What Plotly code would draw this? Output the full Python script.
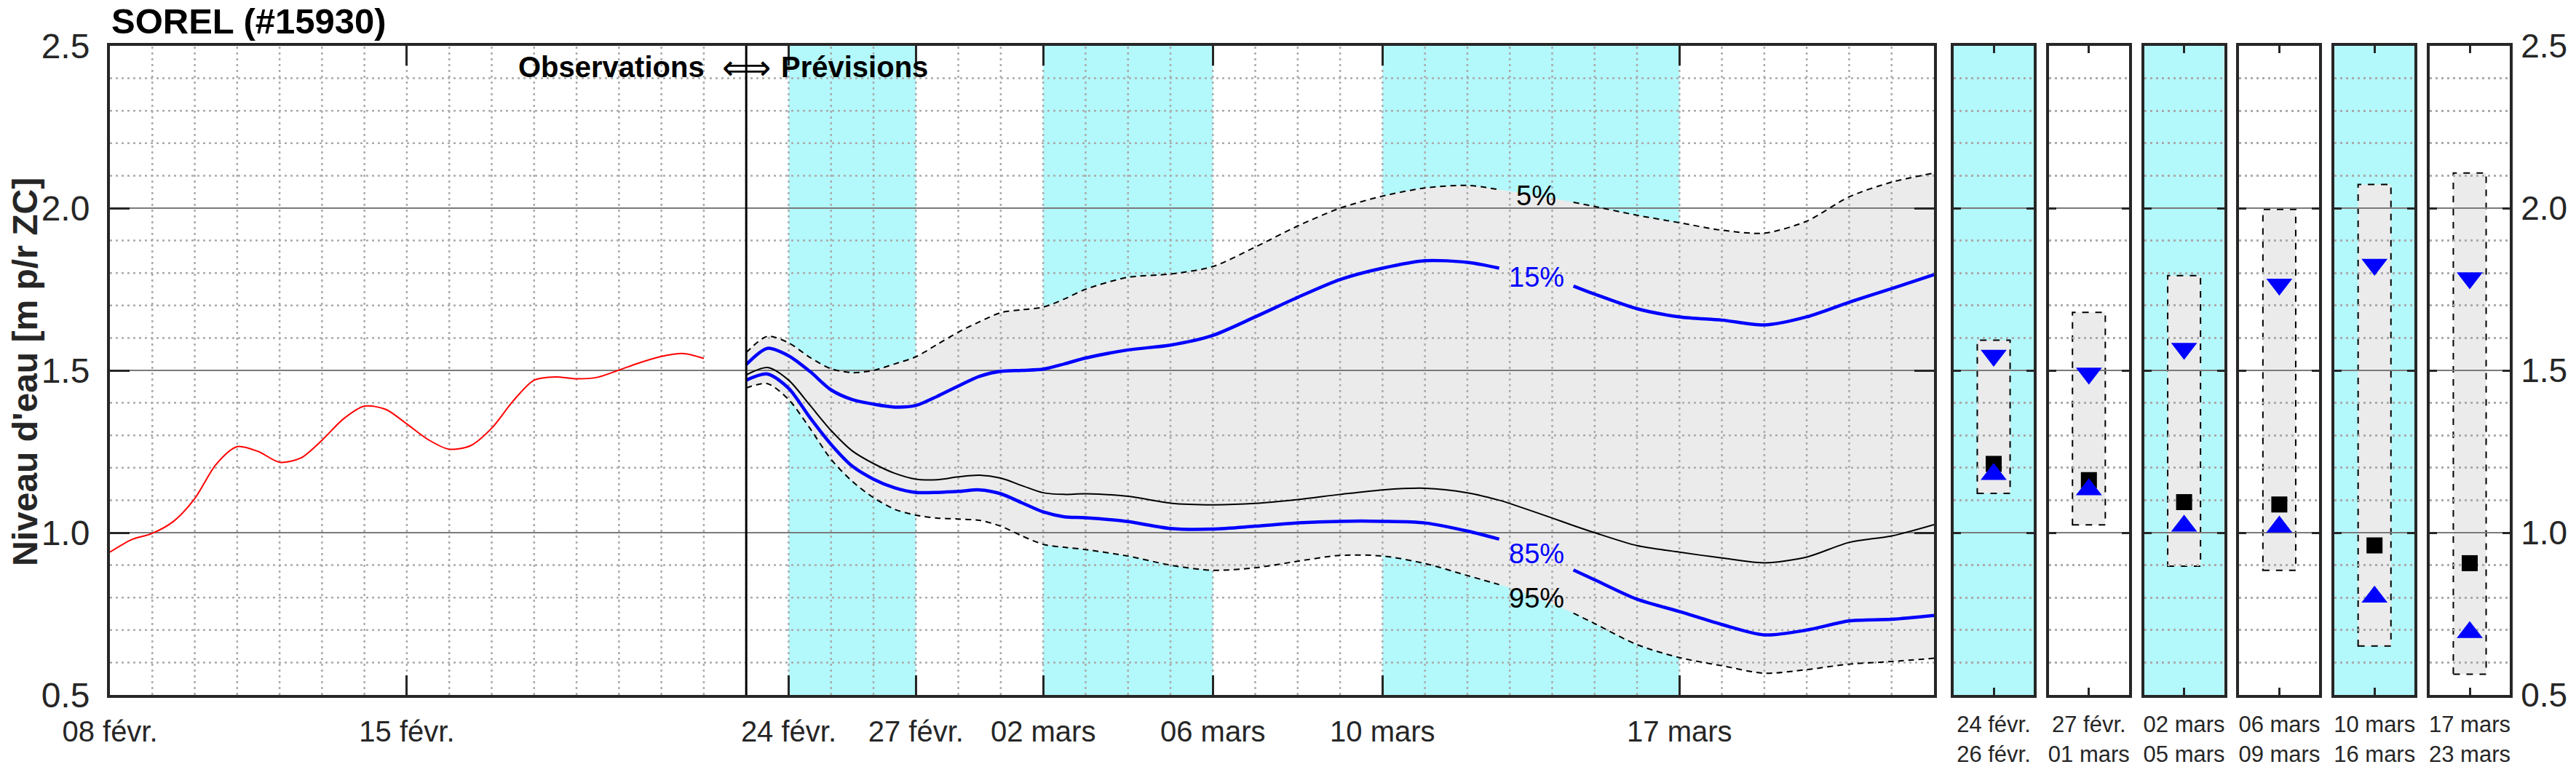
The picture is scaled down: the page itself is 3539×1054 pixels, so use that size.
import numpy as np
import pandas as pd
import plotly.graph_objects as go

# ---------------- data ----------------
OBS_DATES = ["2025-02-08 00:00", "2025-02-08 12:00", "2025-02-09 00:00", "2025-02-09 12:00",
             "2025-02-10 00:00", "2025-02-10 12:00", "2025-02-11 00:00", "2025-02-11 12:00",
             "2025-02-12 00:00", "2025-02-12 12:00", "2025-02-13 00:00", "2025-02-13 12:00",
             "2025-02-14 00:00", "2025-02-14 12:00", "2025-02-15 00:00", "2025-02-15 12:00",
             "2025-02-16 00:00", "2025-02-16 12:00", "2025-02-17 00:00", "2025-02-17 12:00",
             "2025-02-18 00:00", "2025-02-18 12:00", "2025-02-19 00:00", "2025-02-19 12:00",
             "2025-02-20 00:00", "2025-02-20 12:00", "2025-02-21 00:00", "2025-02-21 12:00",
             "2025-02-22 00:00"]
OBS_LEVEL = [0.940, 0.978, 0.998, 1.035, 1.105, 1.210, 1.265, 1.250, 1.217, 1.230,
             1.285, 1.350, 1.390, 1.380, 1.335, 1.287, 1.257, 1.268, 1.322, 1.405,
             1.470, 1.480, 1.474, 1.479, 1.501, 1.524, 1.543, 1.552, 1.537]

FC_DATES = ["2025-02-23 00:00", "2025-02-23 12:00", "2025-02-24 00:00", "2025-02-24 12:00",
            "2025-02-25 00:00", "2025-02-25 12:00", "2025-02-26 00:00", "2025-02-26 12:00",
            "2025-02-27 00:00", "2025-02-27 12:00", "2025-02-28 00:00", "2025-02-28 12:00",
            "2025-03-01 00:00", "2025-03-01 12:00", "2025-03-02 00:00", "2025-03-02 12:00",
            "2025-03-03 00:00", "2025-03-04 00:00", "2025-03-05 00:00", "2025-03-06 00:00",
            "2025-03-07 00:00", "2025-03-08 00:00", "2025-03-09 00:00", "2025-03-10 00:00",
            "2025-03-11 00:00", "2025-03-12 00:00", "2025-03-12 18:00", "2025-03-13 00:00",
            "2025-03-14 00:00", "2025-03-14 12:00", "2025-03-15 00:00", "2025-03-16 00:00",
            "2025-03-17 00:00", "2025-03-18 00:00", "2025-03-19 00:00", "2025-03-20 00:00",
            "2025-03-21 00:00", "2025-03-22 00:00", "2025-03-23 00:00"]
P5 = [1.555, 1.605, 1.585, 1.540, 1.505, 1.493, 1.500, 1.520, 1.542, 1.580, 1.618, 1.650,
      1.678, 1.687, 1.695, 1.720, 1.750, 1.787, 1.797, 1.820, 1.880, 1.945, 2.000, 2.037,
      2.062, 2.070, 2.057, 2.052, 2.030, 2.018, 2.005, 1.978, 1.955, 1.932, 1.923, 1.960,
      2.035, 2.080, 2.108]
P15 = [1.518, 1.568, 1.545, 1.497, 1.440, 1.410, 1.396, 1.387, 1.392, 1.420, 1.452, 1.482,
       1.497, 1.500, 1.504, 1.520, 1.538, 1.563, 1.578, 1.608, 1.665, 1.725, 1.780, 1.815,
       1.838, 1.833, 1.815, 1.810, 1.775, 1.760, 1.735, 1.690, 1.665, 1.655, 1.640, 1.665,
       1.710, 1.752, 1.795]
P50 = [1.486, 1.509, 1.470, 1.393, 1.315, 1.252, 1.213, 1.183, 1.165, 1.163, 1.172, 1.177,
       1.168, 1.145, 1.123, 1.118, 1.120, 1.112, 1.091, 1.086, 1.090, 1.102, 1.118, 1.132,
       1.137, 1.123, 1.100, 1.090, 1.045, 1.022, 1.000, 0.960, 0.940, 0.922, 0.907, 0.925,
       0.970, 0.990, 1.025]
P85 = [1.470, 1.489, 1.445, 1.355, 1.272, 1.205, 1.165, 1.138, 1.124, 1.124, 1.127, 1.132,
       1.120, 1.092, 1.064, 1.049, 1.046, 1.034, 1.013, 1.011, 1.020, 1.030, 1.035, 1.035,
       1.030, 1.005, 0.980, 0.970, 0.915, 0.885, 0.855, 0.795, 0.757, 0.717, 0.685, 0.700,
       0.728, 0.733, 0.745]
P95 = [1.446, 1.459, 1.410, 1.322, 1.226, 1.158, 1.108, 1.072, 1.054, 1.045, 1.042, 1.038,
       1.020, 0.990, 0.964, 0.955, 0.948, 0.928, 0.900, 0.884, 0.892, 0.912, 0.930, 0.928,
       0.905, 0.868, 0.840, 0.830, 0.780, 0.752, 0.720, 0.655, 0.615, 0.590, 0.567, 0.578,
       0.595, 0.603, 0.613]

X_RANGE = ["2025-02-08", "2025-03-23"]
OBS_END = "2025-02-23"
MAIN_TICK_DATES = ["2025-02-08", "2025-02-15", "2025-02-24", "2025-02-27",
                   "2025-03-02", "2025-03-06", "2025-03-10", "2025-03-17"]
MAIN_TICK_LABELS = ["08 févr.", "15 févr.", "24 févr.", "27 févr.",
                    "02 mars", "06 mars", "10 mars", "17 mars"]
CYAN_START = ["2025-02-24", "2025-03-02", "2025-03-10"]
CYAN_END = ["2025-02-27", "2025-03-06", "2025-03-17"]
Y_TICKS = [0.5, 1.0, 1.5, 2.0, 2.5]

LABEL_GAP = ["2025-03-12 18:00", "2025-03-14 12:00"]
CURVE_LABELS = ["5%", "15%", "85%", "95%"]

PERIOD_FROM = ["24 févr.", "27 févr.", "02 mars", "06 mars", "10 mars", "17 mars"]
PERIOD_TO = ["26 févr.", "01 mars", "05 mars", "09 mars", "16 mars", "23 mars"]
PERIOD_SHADED = [True, False, True, False, True, False]
BOX_TOP = [1.593, 1.679, 1.792, 1.996, 2.073, 2.108]
BOX_BOTTOM = [1.121, 1.024, 0.897, 0.884, 0.651, 0.564]
MED_MARK = [1.212, 1.162, 1.094, 1.087, 0.961, 0.906]
P15_MARK = [1.546, 1.491, 1.567, 1.765, 1.826, 1.785]
P85_MARK = [1.180, 1.133, 1.021, 1.018, 0.802, 0.693]

# ---------------- style ----------------
FONT = "Liberation Sans, Arial, Helvetica, sans-serif"
AX = "#262626"
CYAN = "#b3f8fb"
FILL = "#ebebeb"
GRID = "#ababab"
MAJ = "#7a7a7a"
BLUE = "#0000ff"
W, H = 3539, 1054
ML, MR, MT, MB = 151, 89, 63, 99
PW, PH = W - ML - MR, H - MT - MB


def fx(px):
    return (px - ML) / PW


def fy(py):
    return (H - MB - py) / PH


fig = go.Figure()

# cyan forecast-period bands (below grid)
for s, e in zip(CYAN_START, CYAN_END):
    fig.add_shape(type="rect", xref="x", yref="y domain", x0=s, x1=e, y0=0, y1=1,
                  fillcolor=CYAN, line_width=0, layer="below")

# envelope fill 5%-95%
fig.add_trace(go.Scatter(x=FC_DATES, y=P95, mode="lines",
                         line=dict(width=0, shape="spline", smoothing=0.8),
                         hoverinfo="skip", showlegend=False))
fig.add_trace(go.Scatter(x=FC_DATES, y=P5, mode="lines",
                         line=dict(width=0, shape="spline", smoothing=0.8),
                         fill="tonexty", fillcolor=FILL, hoverinfo="skip", showlegend=False))

# grid drawn on top of the fills
minor_y = [round(v, 1) for v in np.arange(0.6, 2.45, 0.1) if round(v, 1) not in Y_TICKS]
hx, hy = [], []
for v in minor_y:
    hx += [X_RANGE[0], X_RANGE[1], None]
    hy += [v, v, None]
vx, vy = [], []
for d in pd.date_range("2025-02-09", "2025-03-22", freq="D"):
    vx += [d, d, None]
    vy += [Y_TICKS[0], Y_TICKS[-1], None]
fig.add_trace(go.Scatter(x=vx, y=vy, mode="lines", line=dict(color=GRID, width=2.5, dash="3px,5px"),
                         hoverinfo="skip", showlegend=False))
fig.add_trace(go.Scatter(x=hx, y=hy, mode="lines", line=dict(color=GRID, width=2.5, dash="3px,5px"),
                         hoverinfo="skip", showlegend=False))
mx, my = [], []
for v in Y_TICKS[1:-1]:
    mx += [X_RANGE[0], X_RANGE[1], None]
    my += [v, v, None]
fig.add_trace(go.Scatter(x=mx, y=my, mode="lines", line=dict(color=MAJ, width=2),
                         hoverinfo="skip", showlegend=False))

# curves
fc_index = pd.to_datetime(FC_DATES)
g0, g1 = pd.to_datetime(LABEL_GAP[0]), pd.to_datetime(LABEL_GAP[1])
in_gap = (fc_index > g0) & (fc_index < g1)


def gapped(values):
    return [None if g else v for v, g in zip(values, in_gap)]


for vals, col, wid, dash in [(P95, "black", 2, "8px,6px"), (P5, "black", 2, "8px,6px")]:
    fig.add_trace(go.Scatter(x=FC_DATES, y=gapped(vals), mode="lines",
                             line=dict(color=col, width=wid, dash=dash, shape="spline", smoothing=0.8),
                             hoverinfo="skip", showlegend=False))
fig.add_trace(go.Scatter(x=FC_DATES, y=P50, mode="lines",
                         line=dict(color="black", width=2, shape="spline", smoothing=0.8),
                         hoverinfo="skip", showlegend=False))
for vals in (P85, P15):
    fig.add_trace(go.Scatter(x=FC_DATES, y=gapped(vals), mode="lines",
                             line=dict(color=BLUE, width=4.5, shape="spline", smoothing=0.8),
                             hoverinfo="skip", showlegend=False))
fig.add_trace(go.Scatter(x=OBS_DATES, y=OBS_LEVEL, mode="lines",
                         line=dict(color="#ff0000", width=2, shape="spline", smoothing=0.8),
                         hoverinfo="skip", showlegend=False))

# obs / forecast boundary
fig.add_shape(type="line", xref="x", yref="y domain", x0=OBS_END, x1=OBS_END, y0=0, y1=1,
              line=dict(color="black", width=3), layer="above")

# curve labels at the middle of the gap
label_t = g0 + (g1 - g0) / 2
tnum = fc_index.astype("int64").to_numpy()
lt = label_t.value
for txt, vals, col in zip(CURVE_LABELS, (P5, P15, P85, P95), ("black", BLUE, BLUE, "black")):
    yv = float(np.interp(lt, tnum, vals))
    fig.add_annotation(x=label_t, y=yv, xref="x", yref="y", text=txt, showarrow=False,
                       font=dict(family=FONT, size=38, color=col), xanchor="center", yanchor="middle")

# ---------------- axes ----------------
axis_common = dict(showline=True, linecolor=AX, linewidth=4, mirror="ticks", ticks="inside",
                   tickcolor=AX, zeroline=False, automargin=False)

fig.update_layout(
    xaxis=dict(domain=[0, fx(2657)], type="date", range=X_RANGE, tickmode="array",
               tickvals=MAIN_TICK_DATES, ticktext=MAIN_TICK_LABELS, ticklen=27, tickwidth=3,
               showgrid=False, tickfont=dict(family=FONT, size=40, color=AX),
               ticklabelstandoff=12, anchor="y", **axis_common),
    yaxis=dict(domain=[0, 1], range=[0.5, 2.5], tickmode="array", tickvals=Y_TICKS,
               ticktext=[f"{v:.1f}" for v in Y_TICKS], ticklen=27, tickwidth=3, showgrid=False,
               tickfont=dict(family=FONT, size=48, color=AX), ticklabelstandoff=14,
               anchor="x", **axis_common),
)

minor_grid = dict(tickvals=minor_y, showgrid=True, gridcolor=GRID, griddash="3px,5px",
                  gridwidth=2.5, ticks="")
for i in range(6):
    n = i + 2
    left = 2684 + i * 130.8
    xdom = [fx(left), fx(left + 110)]
    last = i == 5
    fig.layout[f"xaxis{n}"] = dict(domain=xdom, range=[0, 1], anchor=f"y{n}", tickmode="array",
                                   tickvals=[0.5], ticktext=[f"{PERIOD_FROM[i]}<br>{PERIOD_TO[i]}"],
                                   ticklen=10, tickwidth=3, showgrid=False,
                                   tickfont=dict(family=FONT, size=31, color=AX),
                                   ticklabelstandoff=10, **axis_common)
    fig.layout[f"yaxis{n}"] = dict(domain=[0, 1], range=[0.5, 2.5], anchor=f"x{n}", tickmode="array",
                                   tickvals=Y_TICKS, ticktext=[f"{v:.1f}" for v in Y_TICKS],
                                   ticklen=10, tickwidth=3, showgrid=True, gridcolor=MAJ, gridwidth=2,
                                   minor=minor_grid, showticklabels=last,
                                   side="right" if last else "left",
                                   tickfont=dict(family=FONT, size=46, color=AX),
                                   ticklabelstandoff=2, **axis_common)
    if PERIOD_SHADED[i]:
        fig.add_shape(type="rect", xref=f"x{n} domain", yref=f"y{n} domain", x0=0, x1=1, y0=0, y1=1,
                      fillcolor=CYAN, line_width=0, layer="below")
    fig.add_shape(type="rect", xref=f"x{n}", yref=f"y{n}", x0=0.295, x1=0.705,
                  y0=BOX_BOTTOM[i], y1=BOX_TOP[i], fillcolor=FILL,
                  line=dict(color="black", width=2, dash="dash"), layer="below")
    fig.add_trace(go.Scatter(x=[0.5], y=[MED_MARK[i]], mode="markers", xaxis=f"x{n}", yaxis=f"y{n}",
                             marker=dict(symbol="square", size=22, color="black"),
                             hoverinfo="skip", showlegend=False))
    fig.add_trace(go.Scatter(x=[0.5], y=[P15_MARK[i]], mode="markers", xaxis=f"x{n}", yaxis=f"y{n}",
                             marker=dict(symbol="triangle-down", size=31, color=BLUE),
                             hoverinfo="skip", showlegend=False))
    fig.add_trace(go.Scatter(x=[0.5], y=[P85_MARK[i]], mode="markers", xaxis=f"x{n}", yaxis=f"y{n}",
                             marker=dict(symbol="triangle-up", size=31, color=BLUE),
                             hoverinfo="skip", showlegend=False))

# ---------------- texts ----------------
fig.add_annotation(xref="paper", yref="paper", x=fx(151), y=fy(29), text="<b>SOREL (#15930)</b>",
                   showarrow=False, xanchor="left", yanchor="middle",
                   font=dict(family=FONT, size=49, color="black"))
fig.add_annotation(xref="paper", yref="paper", x=fx(34), y=fy(511), text="<b>Niveau d'eau [m p/r ZC]</b>",
                   showarrow=False, textangle=-90, xanchor="center", yanchor="middle",
                   font=dict(family=FONT, size=48, color=AX))
fig.add_annotation(xref="paper", yref="paper", x=fx(970), y=fy(92), text="<b>Observations</b>",
                   showarrow=False, xanchor="right", yanchor="middle",
                   font=dict(family=FONT, size=40, color="black"))
fig.add_annotation(xref="paper", yref="paper", x=fx(1025), y=fy(92), text="⟺",
                   showarrow=False, xanchor="center", yanchor="middle",
                   font=dict(family="DejaVu Sans, " + FONT, size=47, color="black"))
fig.add_annotation(xref="paper", yref="paper", x=fx(1071), y=fy(92), text="<b>Prévisions</b>",
                   showarrow=False, xanchor="left", yanchor="middle",
                   font=dict(family=FONT, size=40, color="black"))

fig.update_layout(width=W, height=H, margin=dict(l=ML, r=MR, t=MT, b=MB),
                  paper_bgcolor="white", plot_bgcolor="white", showlegend=False,
                  font=dict(family=FONT, color=AX))

fig.write_html("out.html")
